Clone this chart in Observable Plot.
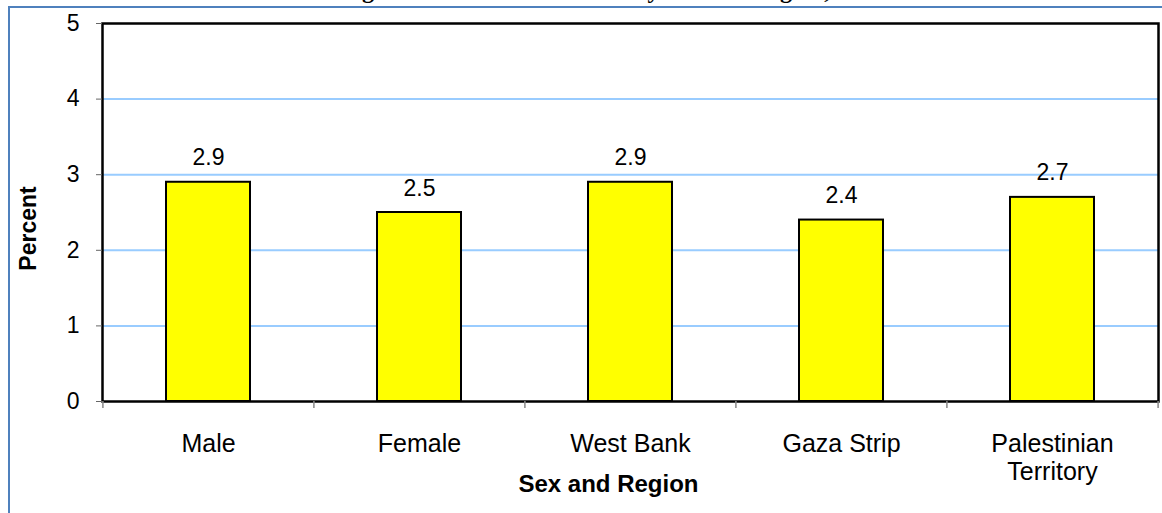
<!DOCTYPE html>
<html>
<head>
<meta charset="utf-8">
<script src="https://cdn.jsdelivr.net/npm/d3@7"></script>
<script src="https://cdn.jsdelivr.net/npm/@observablehq/plot@0.6"></script>
<style>
  html, body { margin: 0; padding: 0; background: #fff; overflow: hidden; }
  #wrap { position: relative; width: 1162px; height: 513px; overflow: hidden; background: #fff; }
  #chart { position: absolute; left: 0; top: 0; }
  #panel { position: absolute; left: 8px; top: 6px; width: 1220px; height: 620px;
           border: 2px solid #4f81bd; box-sizing: border-box; pointer-events: none; }
  #title { position: absolute; left: 0; width: 1156px; top: -22px; text-align: center;
           font: bold 24px/24px "Liberation Serif", "Times New Roman", serif; white-space: nowrap; color: #000; }
</style>
</head>
<body>
<div id="wrap">
  <div id="chart"></div>
  <div id="panel"></div>
  <div id="title">Percentage of Disabled Individuals by Sex and Region, 1997</div>
</div>
<script>
// Disability rate (%) by sex and by region
const categories = ["Male", "Female", "West Bank", "Gaza Strip", "Palestinian Territory"];
const tickLabels = ["Male", "Female", "West Bank", "Gaza Strip", "Palestinian\nTerritory"];
const percents = [2.9, 2.5, 2.9, 2.4, 2.7];
const yTicks = [0, 1, 2, 3, 4, 5];
const gridValues = [1, 2, 3, 4];

const data = categories.map((c, i) => ({category: c, value: percents[i]}));

const width = 1162, height = 513;
const marginLeft = 102, marginRight = 4;
const step = (width - marginLeft - marginRight) / categories.length;
const font = '"Liberation Sans", Arial, Helvetica, sans-serif';

const chart = Plot.plot({
  width, height,
  marginLeft, marginRight, marginTop: 23, marginBottom: 112,
  style: {fontFamily: font, fontSize: "23px", background: "transparent", color: "#000", overflow: "visible"},
  x: {domain: categories, paddingInner: 0.6, paddingOuter: 0.3, axis: null, label: null},
  y: {domain: [0, 5], axis: null, label: null},
  marks: [
    // horizontal gridlines
    Plot.ruleY(gridValues, {stroke: "#99ccff", strokeWidth: 2}),
    // bars
    Plot.barY(data, {x: "category", y: "value", fill: "#ffff00", stroke: "#000", strokeWidth: 2}),
    // value labels above bars
    Plot.text(data, {x: "category", y: "value", text: d => d.value.toFixed(1),
      lineAnchor: "bottom", dy: -17, fill: "#000"}),
    // plot area border
    Plot.frame({stroke: "#000", strokeWidth: 2.5}),
    // y axis ticks and labels
    Plot.axisY(yTicks, {tickSize: 6, tickPadding: 17, stroke: "#666", fill: "#000", label: null,
      tickFormat: d => String(d)}),
    // category separator ticks below the x axis
    Plot.ruleX(categories, {x: d => d, y1: 0, y2: 0, insetBottom: -7, dx: -step / 2,
      stroke: "#888", strokeWidth: 1.5}),
    Plot.ruleX(categories.slice(-1), {x: d => d, y1: 0, y2: 0, insetBottom: -7, dx: step / 2,
      stroke: "#888", strokeWidth: 1.5}),
    // category labels
    Plot.axisX({tickSize: 0, tickPadding: 31, fontSize: 25, lineHeight: 1.12, fill: "#000", label: null,
      tickFormat: c => tickLabels[categories.indexOf(c)]}),
    // axis titles
    Plot.text(["Percent"], {text: d => d, frameAnchor: "left", rotate: -90, dx: -74, dy: 16,
      textAnchor: "middle", lineAnchor: "middle", fontWeight: "bold", fill: "#000"}),
    Plot.text(["Sex and Region"], {text: d => d, frameAnchor: "bottom", dx: -22, dy: 90,
      textAnchor: "middle", lineAnchor: "bottom", fontWeight: "bold", fontSize: 24, fill: "#000"})
  ]
});

document.getElementById("chart").appendChild(chart);
</script>
</body>
</html>
